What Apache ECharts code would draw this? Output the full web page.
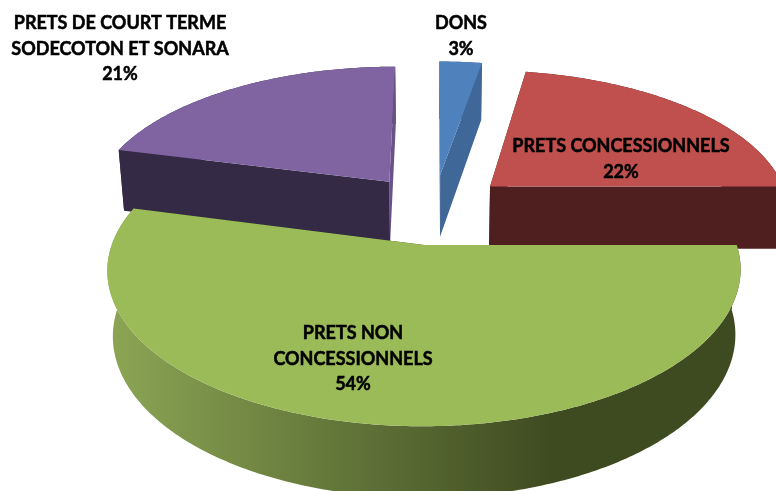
<!DOCTYPE html>
<html>
<head>
<meta charset="utf-8">
<title>Repartition</title>
<style>
  html, body { margin: 0; padding: 0; background: #fff; }
  #chart { width: 776px; height: 491px; overflow: hidden; }
</style>
<script src="https://cdn.jsdelivr.net/npm/echarts@6/dist/echarts.min.js"></script>
</head>
<body>
<div id="chart"></div>
<script>
  // chart values, clockwise from 12 o'clock (labels show them rounded)
  var sliceLabels = ['DONS', 'PRETS CONCESSIONNELS', 'PRETS NON\nCONCESSIONNELS', 'PRETS DE COURT TERME\nSODECOTON ET SONARA'];
  var sliceValues = [2.7, 22.3, 54, 21];

  // look of each slice
  var topColors = ['#4f81bd', '#c0504d', '#9bbb59', '#8064a2'];
  var arcColors = ['#3f6797', '#4f1f1f', null, '#342a45'];
  var startWallColors = ['#3f6797', '#4f1f1f', '#3e4b21', '#342a45'];
  var endWallColors = ['#3f6797', '#4f1f1f', '#3e4b21', '#6a5188'];
  var labelCenters = [[461, 36], [621, 159], [353, 359], [120, 49]];
  var drawOrder = [3, 0, 1, 2]; // green slice sits in front

  // pie plane to screen (tilted, with perspective)
  var cx = 434, cy = 208.7, scaleX = 300.5, scaleY = 140.6, persp = 0.155;
  var explode = 0.25, depth = 63, shrinkX = 0.983, shrinkY = 0.97;

  var total = sliceValues.reduce(function (a, b) { return a + b; }, 0);

  function project(u, v, isBottom) {
    var w = 1 - persp * v;
    return [
      cx + (isBottom ? shrinkX : 1) * scaleX * u / w,
      cy + ((isBottom ? shrinkY : 1) * scaleY * v + (isBottom ? depth : 0)) / w
    ];
  }

  function sliceAngles(index) {
    var before = 0;
    for (var i = 0; i < index; i++) before += sliceValues[i];
    return [before / total * 2 * Math.PI, (before + sliceValues[index]) / total * 2 * Math.PI];
  }

  function arcPoints(index, isBottom) {
    var a = sliceAngles(index);
    var mid = (a[0] + a[1]) / 2;
    var ou = Math.sin(mid) * explode, ov = -Math.cos(mid) * explode;
    var steps = Math.max(8, Math.round((a[1] - a[0]) * 90));
    var pts = [];
    for (var i = 0; i <= steps; i++) {
      var t = a[0] + (a[1] - a[0]) * i / steps;
      pts.push(project(ou + Math.sin(t), ov - Math.cos(t), isBottom));
    }
    return pts;
  }

  function apexPoint(index, isBottom) {
    var a = sliceAngles(index);
    var mid = (a[0] + a[1]) / 2;
    return project(Math.sin(mid) * explode, -Math.cos(mid) * explode, isBottom);
  }

  function poly(points, fill) {
    return { type: 'polygon', shape: { points: points }, style: { fill: fill }, silent: true };
  }

  var greenSide = new echarts.graphic.LinearGradient(110, 0, 740, 0, [
    { offset: 0, color: '#8ba554' },
    { offset: 0.7, color: '#3e4b21' },
    { offset: 1, color: '#3e4b21' }
  ], true);

  function renderSlice(params, api) {
    var i = api.value(0);
    var topArc = arcPoints(i, false);
    var botArc = arcPoints(i, true);
    var apexTop = apexPoint(i, false);
    var apexBot = apexPoint(i, true);
    var last = topArc.length - 1;

    var startWall = poly([apexTop, topArc[0], botArc[0], apexBot], startWallColors[i]);
    var endWall = poly([apexTop, topArc[last], botArc[last], apexBot], endWallColors[i]);
    var arcWall = poly(topArc.concat(botArc.slice().reverse()), arcColors[i] || greenSide);

    // nearer radial wall goes on top
    var walls = topArc[0][1] > topArc[last][1] ? [endWall, startWall] : [startWall, endWall];

    return {
      type: 'group',
      children: [arcWall, walls[0], walls[1], poly([apexTop].concat(topArc), topColors[i]), {
        type: 'text',
        x: labelCenters[i][0],
        y: labelCenters[i][1],
        silent: true,
        style: {
          text: sliceLabels[i] + '\n' + Math.round(sliceValues[i]) + '%',
          font: 'bold 18px Lato',
          lineHeight: 25.5,
          fill: '#000',
          stroke: '#000',
          lineWidth: 0.5,
          align: 'center',
          verticalAlign: 'middle'
        }
      }]
    };
  }

  var chart = echarts.init(document.getElementById('chart'), null, { renderer: 'canvas' });
  chart.setOption({
    animation: false,
    backgroundColor: '#fff',
    series: [{
      type: 'custom',
      coordinateSystem: 'none',
      renderItem: renderSlice,
      data: drawOrder.map(function (i) { return [i, sliceValues[i]]; })
    }]
  });
</script>
</body>
</html>
